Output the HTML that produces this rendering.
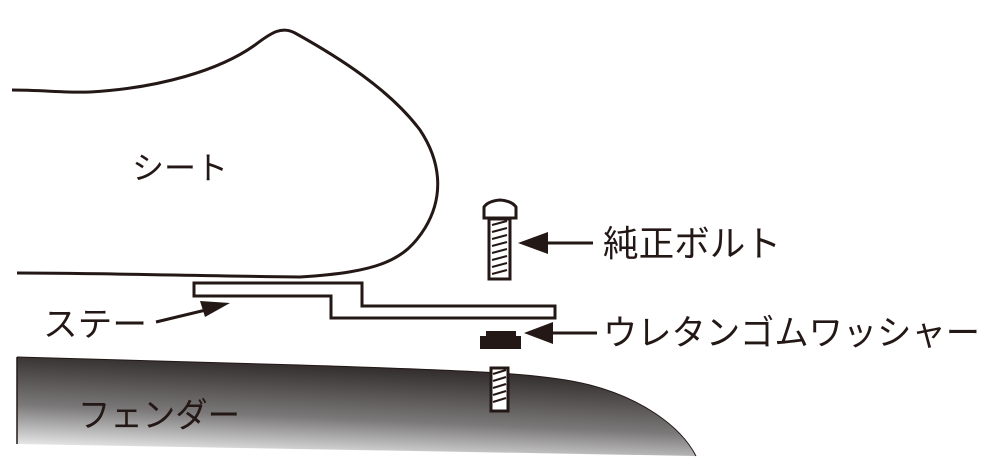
<!DOCTYPE html>
<html><head><meta charset="utf-8"><style>
html,body{margin:0;padding:0;background:#fff;}
svg{display:block}
text{font-family:"Liberation Sans","Noto Sans CJK JP",sans-serif;fill:#231815;}
</style></head><body>
<svg width="1000" height="465" viewBox="0 0 1000 465" xmlns="http://www.w3.org/2000/svg">
<defs>
<linearGradient id="g" x1="0.1" y1="1" x2="0.4" y2="0">
<stop offset="0" stop-color="#ffffff"/>
<stop offset="0.45" stop-color="#7a7878"/>
<stop offset="1" stop-color="#2a2424"/>
</linearGradient>
</defs>
<path d="M17,357 L300,365 C450,370 540,372 590,385 C640,398 680,425 696,456 L17,444 Z" fill="url(#g)"/>
<path d="M17,357 L300,365 C450,370 540,372 590,385 C640,398 680,425 696,456" fill="none" stroke="#231815" stroke-width="1"/>
<line x1="17" y1="357" x2="17" y2="444" stroke="#231815" stroke-width="1.5"/>
<path d="M12,90 C40,90 70,93 90,92 C160,88 220,70 255,45 C272,32 282,26 295,33 C340,58 390,90 420,130 C440,160 445,195 425,228 C405,260 380,272 300,277 C200,276 100,273 17,273" fill="none" stroke="#231815" stroke-width="3"/>
<path d="M194,283 L362,283 L362,306 L555,306 L555,318 L331,318 L331,296 L194,296 Z" fill="#fff" stroke="#231815" stroke-width="3"/>
<path d="M484,218 L484,207 Q488,201 500,200 Q512,201 516,207 L516,218 Z" fill="#fff" stroke="#231815" stroke-width="3"/>
<rect x="489" y="219" width="21" height="60" fill="#fff" stroke="#231815" stroke-width="3"/>
<g stroke="#231815" stroke-width="2">
<line x1="492" y1="225" x2="507" y2="221"/><line x1="492" y1="232" x2="507" y2="228"/><line x1="492" y1="239" x2="507" y2="235"/><line x1="492" y1="246" x2="507" y2="242"/><line x1="492" y1="253" x2="507" y2="249"/><line x1="492" y1="260" x2="507" y2="256"/><line x1="492" y1="267" x2="507" y2="263"/><line x1="492" y1="274" x2="507" y2="270"/>
</g>
<rect x="486" y="331" width="30" height="7" fill="#231815"/>
<rect x="480" y="336" width="41" height="13" fill="#231815"/>
<rect x="491" y="368" width="17" height="43" fill="#fff" stroke="#231815" stroke-width="3"/>
<g stroke="#231815" stroke-width="2">
<line x1="493" y1="374" x2="506" y2="370"/><line x1="493" y1="381" x2="506" y2="377"/><line x1="493" y1="388" x2="506" y2="384"/><line x1="493" y1="395" x2="506" y2="391"/><line x1="493" y1="402" x2="506" y2="398"/>
</g>
<line x1="593" y1="243" x2="540" y2="243" stroke="#231815" stroke-width="3"/>
<polygon points="518,243 548,232 548,254" fill="#231815"/>
<line x1="597" y1="333" x2="545" y2="333" stroke="#231815" stroke-width="3"/>
<polygon points="524,333 553,322 553,344" fill="#231815"/>
<line x1="156" y1="322" x2="210" y2="309" stroke="#231815" stroke-width="3"/>
<polygon points="230,303 200,301 205,317" fill="#231815"/>
<text x="132" y="179" font-size="32" textLength="96" lengthAdjust="spacingAndGlyphs">シート</text>
<text x="603" y="256" font-size="36" textLength="178" lengthAdjust="spacingAndGlyphs">純正ボルト</text>
<text x="603" y="345" font-size="35" textLength="377" lengthAdjust="spacingAndGlyphs">ウレタンゴムワッシャー</text>
<text x="43" y="336" font-size="34" textLength="104" lengthAdjust="spacingAndGlyphs">ステー</text>
<text x="78" y="427" font-size="34" textLength="162" lengthAdjust="spacingAndGlyphs">フェンダー</text>
</svg>
</body></html>
